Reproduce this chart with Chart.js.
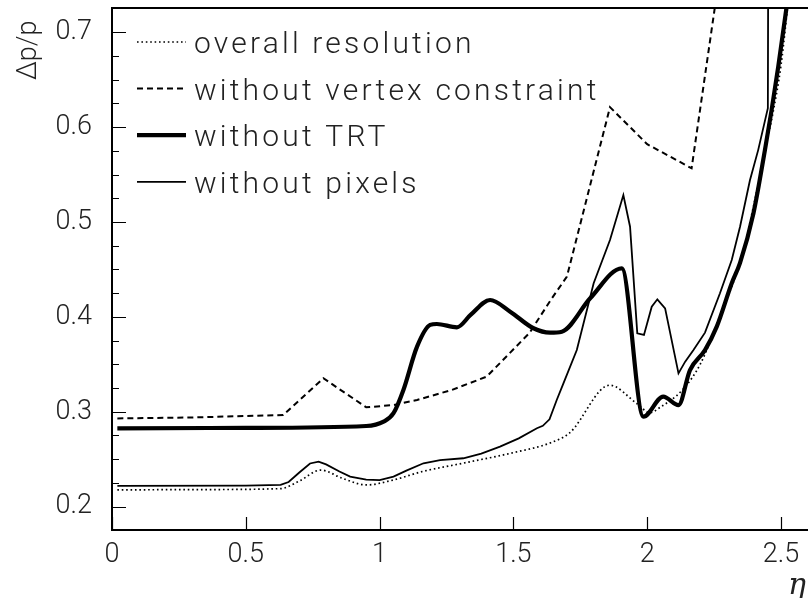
<!DOCTYPE html>
<html>
<head>
<meta charset="utf-8">
<script src="https://cdn.jsdelivr.net/npm/chart.js@4"></script>
<style>
  html, body { margin: 0; padding: 0; background: #fff; overflow: hidden; }
  #wrap { width: 808px; height: 598px; }
</style>
</head>
<body>
<div id="wrap"><canvas id="resolution"></canvas></div>
<script>
  // momentum resolution vs |eta| for the different detector setups
  const overallEta = [0.02, 0.3, 0.63, 0.70, 0.78, 0.86, 0.95, 1.05, 1.16, 1.31, 1.49, 1.64, 1.71, 1.86, 1.96, 2.01, 2.05, 2.13, 2.20, 2.28, 2.35, 2.40, 2.44, 2.47, 2.50, 2.53];
  const overallRes = [0.2176, 0.218, 0.219, 0.227, 0.2386, 0.230, 0.2229, 0.228, 0.237, 0.2457, 0.2563, 0.2674, 0.2777, 0.328, 0.309, 0.299, 0.305, 0.3225, 0.351, 0.407, 0.46, 0.52, 0.575, 0.615, 0.665, 0.74];

  const noVertexEta = [0.02, 0.3, 0.64, 0.79, 0.95, 1.05, 1.14, 1.27, 1.40, 1.56, 1.64, 1.70, 1.861, 2.0, 2.166, 2.26];
  const noVertexRes = [0.293, 0.294, 0.2966, 0.3353, 0.3047, 0.307, 0.3124, 0.323, 0.337, 0.383, 0.418, 0.4424, 0.621, 0.582, 0.5566, 0.74];

  const noTrtEta = [0.02, 0.5, 0.95, 1.015, 1.052, 1.089, 1.14, 1.189, 1.214, 1.289, 1.34, 1.413, 1.488, 1.575, 1.637, 1.681, 1.787, 1.905, 1.986, 2.06, 2.117, 2.16, 2.216, 2.26, 2.316, 2.347, 2.397, 2.44, 2.465, 2.49, 2.53];
  const noTrtRes = [0.2826, 0.283, 0.285, 0.2896, 0.2985, 0.323, 0.3686, 0.3915, 0.3925, 0.389, 0.402, 0.4178, 0.4055, 0.388, 0.3834, 0.3844, 0.4196, 0.4512, 0.2948, 0.316, 0.307, 0.344, 0.365, 0.3897, 0.4354, 0.457, 0.509, 0.5758, 0.618, 0.664, 0.745];

  const noPixelEta = [0.02, 0.5, 0.63, 0.66, 0.70, 0.74, 0.772, 0.80, 0.85, 0.89, 0.95, 1.0, 1.052, 1.10, 1.164, 1.226, 1.313, 1.38, 1.45, 1.52, 1.588, 1.61, 1.635, 1.662, 1.687, 1.737, 1.80, 1.861, 1.911, 1.936, 1.963, 1.988, 2.017, 2.038, 2.067, 2.117, 2.142, 2.173, 2.216, 2.272, 2.316, 2.347, 2.384, 2.415, 2.451, 2.452];
  const noPixelRes = [0.2218, 0.2222, 0.223, 0.226, 0.236, 0.2455, 0.2474, 0.2445, 0.237, 0.2316, 0.2285, 0.228, 0.2316, 0.238, 0.2457, 0.249, 0.251, 0.256, 0.2632, 0.272, 0.2826, 0.2852, 0.292, 0.3124, 0.33, 0.365, 0.4354, 0.481, 0.5284, 0.495, 0.3827, 0.381, 0.4107, 0.4185, 0.409, 0.3405, 0.3528, 0.365, 0.3834, 0.4249, 0.46, 0.495, 0.544, 0.576, 0.62, 0.74];

  const xTicks = [0, 0.5, 1, 1.5, 2, 2.5];
  const yTicks = [0.2, 0.3, 0.4, 0.5, 0.6, 0.7];

  const FONT = 'Roboto';
  const pts = (xs, ys) => xs.map((x, i) => ({ x: x, y: ys[i] }));

  function series(label, xs, ys, width, dash, smooth) {
    return {
      label: label,
      data: pts(xs, ys),
      borderColor: '#000',
      backgroundColor: '#000',
      borderWidth: width,
      borderDash: dash,
      pointRadius: 0,
      pointStyle: 'line',
      cubicInterpolationMode: smooth ? 'monotone' : 'default',
      tension: 0,
      fill: false
    };
  }

  // inward tick marks, top frame line, legend box and axis titles
  const decorations = {
    id: 'decorations',
    afterDatasetsDraw(chart) {
      const { ctx, chartArea: a, scales: { x, y } } = chart;
      ctx.save();
      ctx.strokeStyle = '#000';
      ctx.lineWidth = 2;
      ctx.beginPath();
      ctx.moveTo(a.left - 1, a.top);
      ctx.lineTo(a.right, a.top);
      ctx.stroke();

      ctx.lineWidth = 1.2;
      ctx.beginPath();
      for (let v = 0.175; v <= 0.7251; v += 0.025) {
        const py = Math.round(y.getPixelForValue(v)) + 0.5;
        const major = yTicks.some(t => Math.abs(t - v) < 1e-6);
        ctx.moveTo(a.left, py);
        ctx.lineTo(a.left + (major ? 14 : 7), py);
      }
      xTicks.forEach(t => {
        const px = Math.round(x.getPixelForValue(t)) + 0.5;
        ctx.moveTo(px, a.bottom);
        ctx.lineTo(px, a.bottom - 13);
      });
      ctx.stroke();

      // legend
      ctx.font = '300 30px ' + FONT;
      ctx.fillStyle = '#222';
      ctx.letterSpacing = '3.2px';
      ctx.textBaseline = 'alphabetic';
      chart.data.datasets.forEach((ds, i) => {
        const ly = 42 + i * 46.6;
        ctx.lineWidth = ds.borderWidth;
        ctx.setLineDash(ds.borderDash || []);
        ctx.beginPath();
        ctx.moveTo(137, ly);
        ctx.lineTo(186, ly);
        ctx.stroke();
        ctx.setLineDash([]);
        ctx.fillText(ds.label, 194, ly + 11);
      });

      // axis titles
      ctx.letterSpacing = '0px';
      ctx.font = '300 27px ' + FONT;
      ctx.translate(36, 80);
      ctx.rotate(-Math.PI / 2);
      ctx.fillText('\u0394p/p', 0, 0);
      ctx.restore();

      ctx.save();
      ctx.fillStyle = '#222';
      ctx.font = 'italic 30px "DejaVu Serif"';
      ctx.fillText('\u03b7', 788, 594);
      ctx.restore();
    }
  };

  const tickFont = { family: FONT, size: 27, weight: '300' };

  new Chart(document.getElementById('resolution'), {
    type: 'line',
    data: {
      datasets: [
        series('overall resolution', overallEta, overallRes, 1.7, [1.6, 2.8], true),
        series('without vertex constraint', noVertexEta, noVertexRes, 2, [6, 4], false),
        series('without TRT', noTrtEta, noTrtRes, 4.2, [], true),
        series('without pixels', noPixelEta, noPixelRes, 1.8, [], false)
      ]
    },
    options: {
      responsive: true,
      maintainAspectRatio: false,
      animation: false,
      devicePixelRatio: 1,
      layout: { padding: { top: 8, right: 0, left: 0, bottom: 0 } },
      plugins: { legend: { display: false }, tooltip: { enabled: false } },
      scales: {
        x: {
          type: 'linear',
          min: 0,
          max: 2.601,
          afterFit: s => { s.height = 68; s.paddingLeft = 0; s.paddingRight = 0; },
          grid: { drawOnChartArea: false, drawTicks: false },
          border: { display: true, width: 2, color: '#000' },
          ticks: {
            stepSize: 0.5,
            includeBounds: false,
            padding: 9,
            color: '#222',
            font: tickFont,
            maxRotation: 0,
            callback: v => String(Math.round(v * 10) / 10)
          }
        },
        y: {
          type: 'linear',
          min: 0.1754,
          max: 0.7255,
          afterFit: s => { s.width = 112; s.paddingTop = 0; s.paddingBottom = 0; },
          grid: { drawOnChartArea: false, drawTicks: false },
          border: { display: true, width: 2, color: '#000' },
          ticks: {
            stepSize: 0.1,
            includeBounds: false,
            padding: 20,
            color: '#222',
            font: tickFont,
            callback: v => (Math.round(v * 10) / 10).toFixed(1)
          }
        }
      }
    },
    plugins: [decorations]
  });
</script>
</body>
</html>
